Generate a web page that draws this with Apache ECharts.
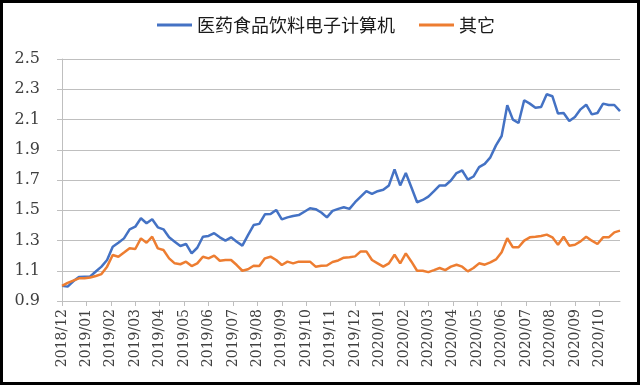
<!DOCTYPE html>
<html>
<head>
<meta charset="utf-8">
<script src="https://cdn.jsdelivr.net/npm/echarts@6/dist/echarts.min.js"></script>
<style>
html,body{margin:0;padding:0;background:#fff;}
#chart{width:640px;height:385px;}
</style>
</head>
<body>
<div id="chart"></div>
<script>
// Month tick labels (one tick per month from the first observation)
const tickLabels = ['2018/12','2019/01','2019/02','2019/03','2019/04','2019/05','2019/06','2019/07','2019/08','2019/09','2019/10','2019/11','2019/12','2020/01','2020/02','2020/03','2020/04','2020/05','2020/06','2020/07','2020/08','2020/09','2020/10'];
const weeksPerMonth = 52 / 12;

const seriesNames = ['医药食品饮料电子计算机', '其它'];

// Weekly values (index = week number since start)
const medFoodTech = [
  1.000, 0.995, 1.030, 1.058, 1.060, 1.062, 1.095, 1.127, 1.171, 1.259,
  1.285, 1.314, 1.374, 1.391, 1.447, 1.414, 1.440, 1.387, 1.374, 1.321,
  1.292, 1.264, 1.277, 1.215, 1.252, 1.325, 1.330, 1.348, 1.321, 1.299,
  1.321, 1.292, 1.266, 1.336, 1.402, 1.410, 1.473, 1.475, 1.502, 1.440,
  1.453, 1.462, 1.468, 1.490, 1.513, 1.507, 1.485, 1.453, 1.496, 1.509,
  1.520, 1.509, 1.553, 1.590, 1.626, 1.608, 1.626, 1.635, 1.664, 1.770,
  1.664, 1.746, 1.650, 1.553, 1.568, 1.590, 1.626, 1.664, 1.664, 1.697,
  1.746, 1.763, 1.703, 1.723, 1.785, 1.807, 1.850, 1.929, 1.991, 2.194,
  2.099, 2.077, 2.227, 2.205, 2.178, 2.183, 2.267, 2.254, 2.139, 2.143,
  2.090, 2.117, 2.167, 2.198, 2.134, 2.143, 2.205, 2.196, 2.196, 2.156
];
const others = [
  1.000, 1.020, 1.035, 1.050, 1.050, 1.055, 1.065, 1.078, 1.127, 1.204,
  1.193, 1.220, 1.248, 1.244, 1.314, 1.285, 1.325, 1.248, 1.237, 1.182,
  1.149, 1.143, 1.160, 1.131, 1.149, 1.193, 1.182, 1.200, 1.166, 1.171,
  1.171, 1.138, 1.100, 1.110, 1.133, 1.131, 1.182, 1.193, 1.171, 1.138,
  1.160, 1.149, 1.160, 1.160, 1.160, 1.127, 1.133, 1.135, 1.158, 1.168,
  1.186, 1.190, 1.195, 1.228, 1.228, 1.171, 1.149, 1.127, 1.149, 1.206,
  1.149, 1.215, 1.160, 1.100, 1.100, 1.091, 1.104, 1.118, 1.104, 1.127,
  1.140, 1.127, 1.096, 1.118, 1.149, 1.140, 1.155, 1.175, 1.222, 1.315,
  1.255, 1.255, 1.299, 1.321, 1.325, 1.330, 1.339, 1.321, 1.272, 1.325,
  1.266, 1.272, 1.294, 1.325, 1.299, 1.277, 1.321, 1.321, 1.354, 1.365
];

const monthTicks = tickLabels.map((_, i) => i * weeksPerMonth);
const toPairs = arr => arr.map((v, i) => [i, v]);

const chart = echarts.init(document.getElementById('chart'), null, {renderer: 'canvas'});
const axisGray = '#bfbfbf';
const labelColor = '#404040';
chart.setOption({
  animation: false,
  backgroundColor: '#ffffff',
  legend: {
    left: 157,
    top: 16,
    padding: 0,
    itemGap: 24,
    itemWidth: 35,
    itemHeight: 3,
    icon: 'rect',
    textStyle: {fontFamily: 'Noto Sans CJK SC', fontSize: 18, color: '#1a1a1a'},
    data: seriesNames
  },
  grid: {left: 62, right: 20, top: 59, bottom: 84},
  xAxis: {
    type: 'value',
    min: 0,
    max: medFoodTech.length - 1,
    splitLine: {show: false},
    axisLine: {show: true, lineStyle: {color: axisGray, width: 1}},
    axisTick: {show: true, length: 5, inside: false, customValues: monthTicks, lineStyle: {color: axisGray}},
    axisLabel: {
      customValues: monthTicks,
      rotate: 90,
      margin: 8,
      fontFamily: 'DejaVu Serif',
      fontSize: 14,
      color: labelColor,
      formatter: v => tickLabels[Math.round(v / weeksPerMonth)] || ''
    }
  },
  yAxis: {
    type: 'value',
    min: 0.9,
    max: 2.5,
    interval: 0.2,
    axisLine: {show: true, lineStyle: {color: axisGray, width: 1}},
    axisTick: {show: true, length: 5, lineStyle: {color: axisGray}},
    splitLine: {show: true, lineStyle: {color: axisGray, width: 1}},
    axisLabel: {
      margin: 22,
      fontFamily: 'DejaVu Serif',
      fontSize: 16,
      color: labelColor,
      formatter: v => v.toFixed(1)
    }
  },
  series: [
    {
      name: seriesNames[0],
      type: 'line',
      data: toPairs(medFoodTech),
      showSymbol: false,
      symbol: 'none',
      lineStyle: {color: '#4472C4', width: 2.5},
      itemStyle: {color: '#4472C4'}
    },
    {
      name: seriesNames[1],
      type: 'line',
      data: toPairs(others),
      showSymbol: false,
      symbol: 'none',
      lineStyle: {color: '#ED7D31', width: 2.5},
      itemStyle: {color: '#ED7D31'}
    }
  ],
  graphic: [{
    type: 'rect',
    shape: {x: 1.5, y: 1.5, width: 637, height: 382},
    style: {fill: 'none', stroke: '#000', lineWidth: 3},
    silent: true,
    z: 100
  }]
});
</script>
</body>
</html>
